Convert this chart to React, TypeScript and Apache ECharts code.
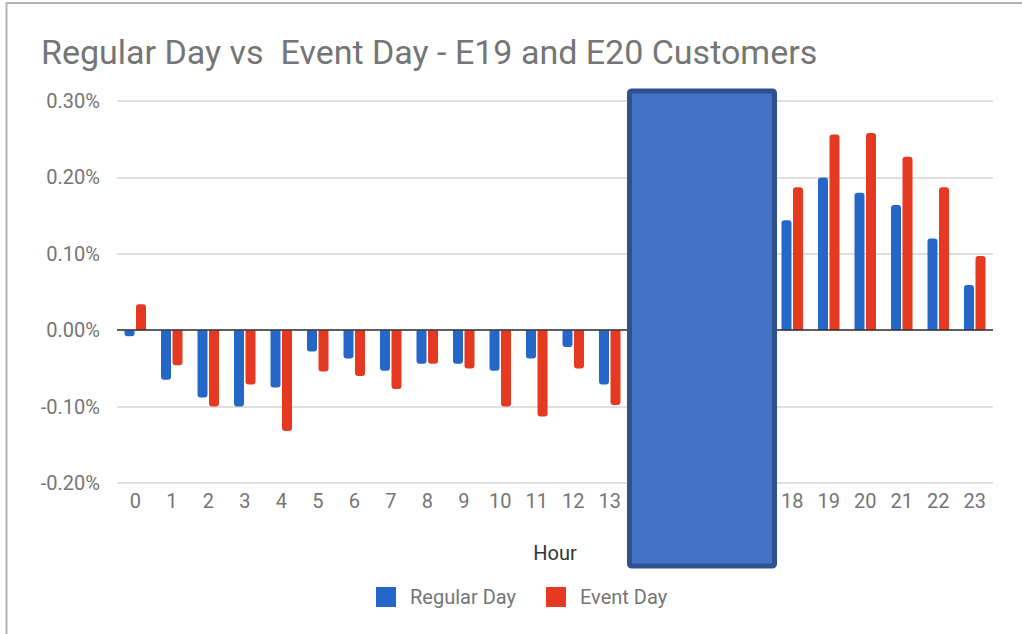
import React, { useEffect, useRef } from "react";
import * as echarts from "echarts";

const titleText = "Regular Day vs  Event Day - E19 and E20 Customers";
const hours = ["0","1","2","3","4","5","6","7","8","9","10","11","12","13","14","15","16","17","18","19","20","21","22","23"];
const regularDay: (number | null)[] = [-0.008,-0.065,-0.088,-0.1,-0.075,-0.028,-0.037,-0.053,-0.044,-0.044,-0.053,-0.037,-0.022,-0.071,null,null,null,null,0.144,0.2,0.18,0.164,0.12,0.059];
const eventDay: (number | null)[] = [0.034,-0.046,-0.1,-0.071,-0.132,-0.054,-0.06,-0.077,-0.044,-0.05,-0.1,-0.113,-0.05,-0.098,null,null,null,null,0.187,0.256,0.258,0.227,0.187,0.097];
const yTicks = { min: -0.2, max: 0.3, interval: 0.1 };

const FONT = "Roboto, 'Noto Sans', sans-serif";
const BLUE = "#2467C9";
const RED = "#E53A21";

function toData(arr: (number | null)[]) {
  return arr.map((v) =>
    v === null
      ? null
      : { value: v, itemStyle: { borderRadius: v < 0 ? [0, 0, 3, 3] : [3, 3, 0, 0] } }
  );
}

export default function App() {
  const ref = useRef<HTMLDivElement>(null);
  useEffect(() => {
    if (!ref.current) return;
    const chart = echarts.init(ref.current, undefined, { renderer: "svg" });
    chart.setOption({
      animation: false,
      backgroundColor: "#ffffff",
      title: {
        text: titleText,
        left: 36,
        top: 30,
        textStyle: { fontFamily: FONT, fontSize: 34, fontWeight: "normal", color: "#757575" },
      },
      legend: {
        left: 371,
        top: 582,
        itemWidth: 20,
        itemHeight: 20,
        itemGap: 30,
        icon: "rect",
        textStyle: { fontFamily: FONT, fontSize: 20, color: "#757575", padding: [0, 0, 0, 9] },
        data: ["Regular Day", "Event Day"],
      },
      grid: { left: 117, right: 29, top: 101, bottom: 151, containLabel: false },
      xAxis: {
        type: "category",
        data: hours,
        name: "Hour",
        nameLocation: "middle",
        nameGap: 60,
        nameTextStyle: { fontFamily: FONT, fontSize: 20, color: "#333333" },
        axisLine: { show: false, onZero: false },
        axisTick: { show: false },
        axisLabel: { fontFamily: FONT, fontSize: 20, color: "#757575", margin: 8, interval: 0 },
      },
      yAxis: {
        type: "value",
        min: yTicks.min,
        max: yTicks.max,
        interval: yTicks.interval,
        axisLine: { show: false },
        axisTick: { show: false },
        splitLine: { lineStyle: { color: "#d4d4d4", width: 1.5 } },
        axisLabel: {
          fontFamily: FONT,
          fontSize: 20,
          color: "#757575",
          margin: 17,
          formatter: (v: number) => v.toFixed(2) + "%",
        },
      },
      series: [
        {
          name: "Regular Day",
          type: "bar",
          data: toData(regularDay),
          barWidth: 10,
          barGap: "15%",
          itemStyle: { color: BLUE },
          markLine: {
            silent: true,
            symbol: "none",
            label: { show: false },
            lineStyle: { color: "#333333", type: "solid", width: 1.5 },
            data: [{ yAxis: 0 }],
            z: 10,
          },
        },
        {
          name: "Event Day",
          type: "bar",
          data: toData(eventDay),
          barWidth: 10,
          barGap: "15%",
          itemStyle: { color: RED },
        },
      ],
      graphic: [
        {
          type: "line",
          z: 100,
          shape: { x1: 6, y1: 3, x2: 1022, y2: 3 },
          style: { stroke: "#b3b3b3", lineWidth: 2 },
        },
        {
          type: "line",
          z: 100,
          shape: { x1: 6.5, y1: 2, x2: 6.5, y2: 634 },
          style: { stroke: "#b3b3b3", lineWidth: 2 },
        },
        {
          type: "rect",
          z: 100,
          shape: { x: 629.5, y: 91, width: 145, height: 475, r: 2 },
          style: { fill: "#4472C4", stroke: "#2F528F", lineWidth: 5 },
        },
      ],
    });
    return () => chart.dispose();
  }, []);
  return (
    <div
      ref={ref}
      style={{ position: "absolute", left: 0, top: 0, width: 1022, height: 634 }}
    />
  );
}
